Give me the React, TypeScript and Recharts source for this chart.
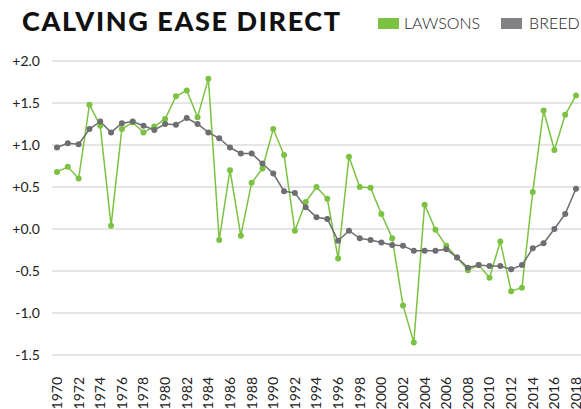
import { LineChart, Line, XAxis, YAxis, CartesianGrid } from "recharts";

const years = [
  1970, 1971, 1972, 1973, 1974, 1975, 1976, 1977, 1978, 1979,
  1980, 1981, 1982, 1983, 1984, 1985, 1986, 1987, 1988, 1989,
  1990, 1991, 1992, 1993, 1994, 1995, 1996, 1997, 1998, 1999,
  2000, 2001, 2002, 2003, 2004, 2005, 2006, 2007, 2008, 2009,
  2010, 2011, 2012, 2013, 2014, 2015, 2016, 2017, 2018,
];

const lawsons = [
  0.68, 0.74, 0.6, 1.48, 1.23, 0.04, 1.19, 1.27, 1.15, 1.22,
  1.31, 1.58, 1.65, 1.33, 1.79, -0.13, 0.7, -0.08, 0.55, 0.72,
  1.19, 0.88, -0.02, 0.32, 0.5, 0.36, -0.35, 0.86, 0.5, 0.49,
  0.18, -0.11, -0.91, -1.35, 0.29, -0.01, -0.2, -0.34, -0.49, -0.43,
  -0.58, -0.15, -0.74, -0.7, 0.44, 1.41, 0.94, 1.36, 1.59,
];

const breed = [
  0.97, 1.02, 1.01, 1.19, 1.28, 1.15, 1.26, 1.28, 1.23, 1.18,
  1.25, 1.24, 1.32, 1.25, 1.15, 1.08, 0.97, 0.9, 0.9, 0.78,
  0.66, 0.45, 0.43, 0.26, 0.14, 0.12, -0.14, -0.02, -0.11, -0.13,
  -0.16, -0.19, -0.2, -0.26, -0.26, -0.26, -0.24, -0.34, -0.46, -0.43,
  -0.44, -0.44, -0.48, -0.43, -0.23, -0.17, 0.0, 0.18, 0.48,
];

const xTicks = [
  1970, 1972, 1974, 1976, 1978, 1980, 1982, 1984, 1986, 1988, 1990, 1992,
  1994, 1996, 1998, 2000, 2002, 2004, 2006, 2008, 2010, 2012, 2014, 2016, 2018,
];

const yTicks = [-1.5, -1.0, -0.5, 0.0, 0.5, 1.0, 1.5, 2.0];

const GREEN = "#7cc242";
const GREY = "#6d6e71";
const FONT = "Lato, sans-serif";

const data = years.map((year, i) => ({ year, lawsons: lawsons[i], breed: breed[i] }));

function YearTick({ x, y, payload }: { x?: number; y?: number; payload?: { value: number } }) {
  const ty = (y ?? 0) + 14;
  return (
    <text
      x={x}
      y={ty}
      dy="0.35em"
      transform={`rotate(-90 ${x} ${ty})`}
      textAnchor="end"
      fontSize={14}
      fontFamily={FONT}
      fill="#222"
    >
      {payload?.value}
    </text>
  );
}

const fmtY = (v: number) => (v < 0 ? "" : "+") + v.toFixed(1);

export default function App() {
  return (
    <div style={{ position: "fixed", left: 0, top: 0, width: 581, height: 409, background: "#fff" }}>
      <div
        style={{
          position: "absolute",
          left: 22,
          top: 7,
          fontFamily: FONT,
          fontWeight: 900,
          fontSize: 27,
          letterSpacing: 1.6,
          lineHeight: "27px",
          color: "#111",
          whiteSpace: "nowrap",
        }}
      >
        CALVING EASE DIRECT
      </div>
      <div
        style={{
          position: "absolute",
          left: 378,
          top: 15,
          height: 16,
          display: "flex",
          alignItems: "center",
          fontFamily: FONT,
          fontWeight: 300,
          fontSize: 16,
          lineHeight: "16px",
          color: "#222",
          whiteSpace: "nowrap",
        }}
      >
        <span style={{ width: 21, height: 11, background: GREEN, marginRight: 5 }} />
        <span style={{ marginRight: 21 }}>LAWSONS</span>
        <span style={{ width: 21, height: 11, background: "#818285", marginRight: 7 }} />
        <span>BREED</span>
      </div>
      <LineChart width={581} height={409} data={data} margin={{ top: 61, right: 0, bottom: 0, left: 0 }}>
        <CartesianGrid stroke="#dcdcdc" strokeWidth={1.5} vertical={false} />
        <XAxis
          dataKey="year"
          type="number"
          domain={[1970, 2018]}
          ticks={xTicks}
          interval={0}
          padding={{ left: 5, right: 5 }}
          height={54}
          axisLine={false}
          tickLine={false}
          tick={<YearTick />}
        />
        <YAxis
          domain={[-1.5, 2.0]}
          ticks={yTicks}
          interval={0}
          width={52}
          axisLine={false}
          tickLine={false}
          tickMargin={6}
          tickFormatter={fmtY}
          tick={{ fontSize: 14, fontFamily: FONT, fill: "#222" }}
        />
        <Line
          dataKey="lawsons"
          type="linear"
          stroke={GREEN}
          strokeWidth={1.5}
          dot={{ r: 3, fill: GREEN, stroke: "none" }}
          isAnimationActive={false}
        />
        <Line
          dataKey="breed"
          type="linear"
          stroke={GREY}
          strokeWidth={1.5}
          dot={{ r: 3, fill: GREY, stroke: "none" }}
          isAnimationActive={false}
        />
      </LineChart>
    </div>
  );
}
